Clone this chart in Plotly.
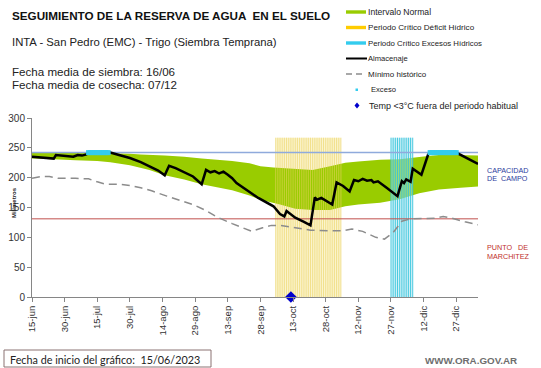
import pandas as pd
import plotly.graph_objects as go

# ---------------- data ----------------
START = "2023-06-15"
END_DAY = 205

tick_days = [0, 15, 30, 45, 60, 75, 90, 105, 120, 135, 150, 165, 180, 195]
tick_labels = ["15-jun", "30-jun", "15-jul", "30-jul", "14-ago", "29-ago", "13-sep",
               "28-sep", "13-oct", "28-oct", "12-nov", "27-nov", "12-dic", "27-dic"]

# Almacenaje (mm)
alm_days = [0, 5, 10, 11, 15, 19, 21, 23, 25, 26, 35, 36, 40, 45, 50, 54, 58, 61, 63, 66,
            70, 74, 78, 80, 82, 84, 86, 88, 90, 92, 94, 97, 100, 104, 108, 111, 114, 116,
            117, 121, 125, 128, 130, 131, 133, 135, 138, 140, 143, 146, 148, 150, 152, 154,
            156, 157, 159, 163, 168, 170, 171, 172, 174, 175, 177, 179, 182, 183, 195, 200, 205]
alm_vals = [235, 233, 232, 238, 237, 235, 238, 237, 239, 242, 242, 242, 238, 233, 226, 219, 212, 204, 220, 216,
            209, 202, 189, 213, 209, 211, 207, 210, 205, 199, 191, 183, 176, 166, 158, 152, 139, 135,
            144, 133, 126, 120, 167, 163, 166, 161, 155, 192, 186, 177, 196, 194, 198, 195,
            196, 192, 194, 183, 169, 194, 191, 197, 193, 215, 210, 205, 238, 242, 242, 233, 223]

# Intervalo normal (upper / lower bounds, mm)
upper_days = [0, 10, 25, 36, 45, 50, 61, 70, 78, 92, 100, 105, 111, 120, 129, 137, 144, 150,
              160, 169, 181, 187, 195, 205]
upper_vals = [242, 242, 242, 241, 240, 239, 237, 235, 232, 228, 224, 219, 217, 215, 213, 219, 225, 227,
              230, 231, 236, 238, 238, 237]
lower_days = [0, 10, 20, 30, 36, 45, 54, 61, 70, 78, 85, 92, 100, 105, 114, 121, 129, 137,
              144, 150, 160, 169, 178, 187, 197, 205]
lower_vals = [232, 231, 229, 228, 226, 221, 213, 204, 197, 189, 184, 179, 170, 163, 155, 148, 146, 146,
              152, 155, 158, 164, 174, 180, 183, 185]

# Minimo historico (mm)
min_days = [0, 4, 8, 12, 20, 26, 30, 34, 40, 45, 50, 55, 62, 70, 74, 80, 85, 92, 98, 101,
            106, 110, 114, 120, 128, 136, 143, 147, 152, 158, 162, 166, 170, 174, 181, 185,
            189, 193, 199, 205]
min_vals = [199, 202, 202, 199, 199, 198, 193, 189, 189, 187, 183, 178, 169, 160, 155, 145, 134, 123, 115, 110,
            116, 120, 120, 117, 112, 111, 111, 114, 110, 100, 97, 108, 127, 131, 131, 132,
            135, 132, 126, 121]

CAPACIDAD_CAMPO = 242
PUNTO_MARCHITEZ = 131

# Periodos criticos (start day, end day, bar height)
deficit_period = [112, 142]
exceso_period = [165, 175]
period_height = 267

# Exceso (days at field capacity)
exceso_days = [26, 27, 28, 29, 30, 31, 32, 33, 34, 35,
               183, 184, 185, 186, 187, 188, 189, 190, 191, 192, 193, 194, 195]

# Temp < 3 C fuera del periodo habitual
frost_days = [119]
frost_vals = [0]

# ---------------- helpers ----------------
t0 = pd.Timestamp(START)


def to_dates(days):
    return [t0 + pd.Timedelta(days=d) for d in days]


def stripes(period, top):
    xs, ys = [], []
    for d in range(period[0], period[1] + 1):
        dt = t0 + pd.Timedelta(days=d)
        xs += [dt, dt, None]
        ys += [0, top, None]
    return xs, ys


fig = go.Figure()

# pale background of deficit period
fig.add_trace(go.Scatter(x=to_dates(deficit_period), y=[period_height] * 2, mode="none",
                         fill="tozeroy", fillcolor="rgba(251,243,200,0.9)",
                         showlegend=False, hoverinfo="skip"))

# intervalo normal band
band_x = to_dates(upper_days) + to_dates(lower_days[::-1])
band_y = upper_vals + lower_vals[::-1]
fig.add_trace(go.Scatter(x=band_x, y=band_y, mode="none", fill="toself",
                         fillcolor="#99CC00", showlegend=False, hoverinfo="skip"))

# deficit stripes
sx, sy = stripes(deficit_period, period_height)
fig.add_trace(go.Scatter(x=sx, y=sy, mode="lines",
                         line=dict(color="rgba(235,210,95,0.6)", width=1),
                         showlegend=False, hoverinfo="skip"))

# exceso period background + stripes
fig.add_trace(go.Scatter(x=to_dates(exceso_period), y=[period_height] * 2, mode="none",
                         fill="tozeroy", fillcolor="rgba(160,228,240,0.5)",
                         showlegend=False, hoverinfo="skip"))
cx, cy = stripes(exceso_period, period_height)
fig.add_trace(go.Scatter(x=cx, y=cy, mode="lines",
                         line=dict(color="rgba(50,195,220,0.85)", width=1),
                         showlegend=False, hoverinfo="skip"))

# capacidad de campo / punto de marchitez
fig.add_trace(go.Scatter(x=to_dates([0, END_DAY]), y=[CAPACIDAD_CAMPO] * 2, mode="lines",
                         line=dict(color="#8FAADC", width=1.5), showlegend=False))
fig.add_trace(go.Scatter(x=to_dates([0, END_DAY]), y=[PUNTO_MARCHITEZ] * 2, mode="lines",
                         line=dict(color="#C0504D", width=1), showlegend=False))

# minimo historico
fig.add_trace(go.Scatter(x=to_dates(min_days), y=min_vals, mode="lines",
                         line=dict(color="#8C8C8C", width=1.5, dash="8px,5px"),
                         showlegend=False))

# almacenaje
fig.add_trace(go.Scatter(x=to_dates(alm_days), y=alm_vals, mode="lines",
                         line=dict(color="black", width=2.5), showlegend=False))

# exceso markers
fig.add_trace(go.Scatter(x=to_dates(exceso_days), y=[CAPACIDAD_CAMPO] * len(exceso_days),
                         mode="markers", marker=dict(color="#33CCEE", size=5, symbol="square"),
                         showlegend=False))

# frost marker
fig.add_trace(go.Scatter(x=to_dates(frost_days), y=frost_vals, mode="markers",
                         marker=dict(color="#0000CC", size=9, symbol="diamond"),
                         cliponaxis=False, showlegend=False))

# ---------------- layout ----------------
L, T, W, H = 32, 118, 446, 179


def px(x):
    return (x - L) / W


def py(y):
    return (T + H - y) / H


FONT = "Liberation Sans, Arial, sans-serif"
ann = []


def text(x, y, s, size, color="#222222", anchor="left", family=FONT):
    ann.append(dict(x=px(x), y=py(y), xref="paper", yref="paper", text=s,
                    showarrow=False, xanchor=anchor, yanchor="middle",
                    font=dict(size=size, color=color, family=family)))


text(10, 15, "<b>SEGUIMIENTO DE LA RESERVA DE AGUA  EN EL SUELO</b>", 11.7, "#111111")
text(10, 42, "INTA - San Pedro (EMC) - Trigo (Siembra Temprana)", 11.3, "#222222")
text(10, 72, "Fecha media de siembra: 16/06", 11.6, "#222222")
text(10, 84, "Fecha media de cosecha: 07/12", 11.6, "#222222")

legend_names = ["Intervalo Normal", "Periodo Crítico Déficit Hídrico",
                "Periodo Crítico Excesos Hídricos", "Almacenaje", "Mínimo histórico",
                "Exceso", "Temp <3°C fuera del periodo habitual"]
legend_y = [12, 27.5, 43, 58.5, 74, 90, 105.5]
legend_tx = [366, 366, 366, 366, 366, 369, 367]
legend_fs = [8.6, 8.1, 7.8, 7.6, 8.0, 7.6, 9.0]
for nm, yy, xx, fs in zip(legend_names, legend_y, legend_tx, legend_fs):
    text(xx, yy, nm, fs, "#222222")

ann.append(dict(x=px(9), y=py(203), xref="paper", yref="paper", text="<b>Milímetros</b>",
                showarrow=False, textangle=-90, font=dict(size=6, color="#222222", family=FONT)))

text(485, 170, "CAPACIDAD", 7.2, "#2B3C9E")
text(485, 178.5, "DE  CAMPO", 7.2, "#2B3C9E")
text(485, 247, "PUNTO   DE", 7.2, "#C0302B")
text(485, 256, "MARCHITEZ", 7.2, "#C0302B")

text(8, 359, "Fecha de inicio del gráfico:  15/06/2023", 10.8, "#222222", family="Lato, sans-serif")
text(519, 360, "<b>WWW.ORA.GOV.AR</b>", 9.8, "#6E6E6E", anchor="right")

shapes = []


def rect(x0, y0, x1, y1, fill=None, line=None, lw=0):
    shapes.append(dict(type="rect", xref="paper", yref="paper",
                       x0=px(x0), x1=px(x1), y0=py(y0), y1=py(y1),
                       fillcolor=fill if fill else "rgba(0,0,0,0)",
                       line=dict(color=line if line else "rgba(0,0,0,0)", width=lw)))


def hline(x0, x1, y, color, width, dash="solid"):
    shapes.append(dict(type="line", xref="paper", yref="paper",
                       x0=px(x0), x1=px(x1), y0=py(y), y1=py(y),
                       line=dict(color=color, width=width, dash=dash)))


# legend swatches
rect(346, 10.3, 366, 13.7, fill="#99CC00")
rect(346, 25.8, 366, 29.2, fill="#FFCC00")
rect(346, 41.3, 366, 44.7, fill="#33CCEE")
hline(346, 367, 58.5, "black", 2)
hline(346, 366, 74, "#8C8C8C", 1.5, "6px,4px")
rect(355.5, 88.5, 358, 91, fill="#33CCEE")
shapes.append(dict(type="path", xref="paper", yref="paper",
                   path="M {a},{b} L {c},{d} L {a},{e} L {f},{d} Z".format(
                       a=px(357), b=py(102.5), c=px(359.5), d=py(105.5), e=py(108.5), f=px(354.5)),
                   fillcolor="#0000CC", line=dict(width=0)))

# footer box
rect(4, 350, 211, 367, line="#8B7373", lw=1)

fig.update_layout(
    width=541, height=368,
    margin=dict(l=L, r=541 - L - W, t=T, b=368 - T - H, pad=0, autoexpand=False),
    paper_bgcolor="white", plot_bgcolor="white",
    showlegend=False,
    annotations=ann, shapes=shapes,
    font=dict(family=FONT, color="#333333"),
    xaxis=dict(type="date", range=to_dates([0, END_DAY]), automargin=False,
               tickvals=to_dates(tick_days), ticktext=tick_labels, tickangle=-90,
               tickfont=dict(size=9.5, color="#333333", family=FONT),
               showgrid=False, zeroline=False, showline=True, linecolor="#868686",
               linewidth=1, ticks="outside", ticklen=4, tickcolor="#868686"),
    yaxis=dict(range=[0, 300], tickvals=[0, 50, 100, 150, 200, 250, 300], automargin=False,
               tickfont=dict(size=10, color="#333333", family=FONT),
               showgrid=False, zeroline=False, showline=True, linecolor="#868686",
               linewidth=1, ticks="outside", ticklen=4, tickcolor="#868686"),
)

fig.write_html("out.html", config={"displayModeBar": False},
               post_script="document.body.style.margin='0';document.body.style.padding='0';")
